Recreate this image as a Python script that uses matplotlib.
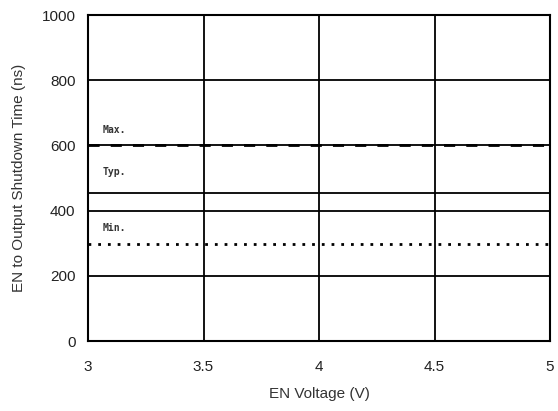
import matplotlib
matplotlib.use("Agg")
import matplotlib.pyplot as plt

x_range = [3, 5]
x_ticks = [3, 3.5, 4, 4.5, 5]
x_tick_labels = ["3", "3.5", "4", "4.5", "5"]
y_ticks = [0, 200, 400, 600, 800, 1000]
series_names = ["Max.", "Typ.", "Min."]
series_values = [600, 455, 298]
series_styles = [(0, (4, 4)), "-", (0, (1, 2.5))]
series_widths = [2.0, 1.3, 2.0]
label_offsets = [47, 63, 49]

fig = plt.figure(figsize=(5.58, 4.11), dpi=100)
ax = fig.add_axes([0.1577, 0.1703, 0.828, 0.7932])
ax.set_xlim(*x_range)
ax.set_ylim(0, 1000)
ax.set_xticks(x_ticks)
ax.set_xticklabels(x_tick_labels)
ax.set_yticks(y_ticks)
ax.grid(True, color="black", linewidth=1.3)
ax.set_axisbelow(True)
ax.tick_params(length=0, labelsize=11, colors="#222222")
ax.tick_params(axis="x", pad=14)
ax.tick_params(axis="y", pad=9)
for t in ax.get_xticklabels() + ax.get_yticklabels():
    t.set_family("Liberation Sans")
for s in ax.spines.values():
    s.set_linewidth(1.5)
    s.set_color("black")

for name, val, ls, lw, off in zip(series_names, series_values, series_styles, series_widths, label_offsets):
    ax.plot(x_range, [val, val], color="black", linestyle=ls, linewidth=lw)
    ax.text(3.065, val + off, name, fontsize=7, family="DejaVu Sans Mono",
            fontweight="bold", color="#333333", va="center", ha="left")

ax.set_xlabel("EN Voltage (V)", fontsize=11, family="Liberation Sans", color="#333333", labelpad=9)
ax.set_ylabel("EN to Output Shutdown Time (ns)", fontsize=11, family="Liberation Sans", color="#333333", labelpad=11)

fig.savefig("out.png", dpi=100)
